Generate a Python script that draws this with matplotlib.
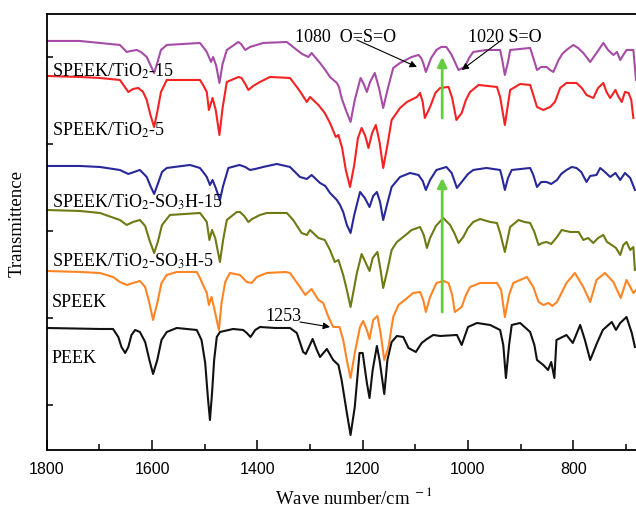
import matplotlib
matplotlib.use("Agg")
import matplotlib.pyplot as plt

# ---------- data (wavenumber, transmittance a.u.) ----
peek_wn = [1800, 1699, 1674, 1664, 1658, 1651, 1645, 1639, 1632, 1623, 1613,
           1605, 1598, 1590, 1582, 1572, 1553, 1515, 1506, 1499, 1494, 1490,
           1486, 1482, 1477, 1471, 1446, 1427, 1420, 1413, 1404, 1395, 1366,
           1338, 1325, 1313, 1308, 1295, 1287, 1281, 1268, 1256, 1246, 1240,
           1230, 1223, 1215, 1206, 1200, 1192, 1187, 1181, 1173, 1168, 1159,
           1153, 1145, 1135, 1123, 1113, 1099, 1088, 1078, 1066, 1053, 1021,
           1012, 1000, 983, 958, 939, 933, 928, 922, 917, 901, 882, 874, 869,
           857, 848, 842, 836, 832, 813, 801, 787, 778, 768, 755, 744, 727,
           719, 711, 699, 689, 683]
peek_t = [122, 121, 121, 113, 103, 97, 103, 115, 120, 118, 108,
          90, 76, 90, 110, 118, 122, 120, 110, 87, 53, 30,
          57, 90, 113, 118, 121, 120, 117, 113, 120, 123, 122,
          122, 117, 98, 96, 111, 100, 93, 101, 90, 85, 70,
          37, 15, 43, 97, 97, 67, 52, 80, 104, 90, 56,
          90, 108, 114, 113, 102, 98, 107, 111, 115, 114, 115,
          105, 123, 127, 125, 120, 105, 72, 105, 125, 127, 118, 105, 90,
          85, 80, 88, 72, 110, 115, 107, 125, 110, 90, 107, 120, 128,
          120, 127, 133, 117, 103]

speek_wn = [1800, 1737, 1699, 1674, 1661, 1648, 1636, 1623, 1613, 1605, 1598,
            1590, 1582, 1572, 1553, 1515, 1509, 1503, 1496, 1492, 1487, 1482,
            1473, 1468, 1461, 1452, 1433, 1420, 1411, 1401, 1382, 1347, 1338,
            1319, 1309, 1297, 1284, 1275, 1265, 1256, 1244, 1237, 1229, 1223,
            1215, 1205, 1199, 1192, 1187, 1180, 1172, 1166, 1159, 1151, 1142,
            1132, 1120, 1104, 1091, 1085, 1080, 1072, 1060, 1047, 1037, 1030,
            1025, 1012, 1004, 996, 977, 945, 937, 930, 922, 914, 888, 876,
            866, 857, 847, 840, 831, 813, 797, 781, 768, 756, 740, 724, 710,
            699, 686, 681]
speek_t = [179, 178, 177, 173, 168, 165, 167, 169, 163, 147, 130,
           147, 167, 175, 178, 178, 172, 165, 157, 145, 153, 142,
           120, 147, 168, 177, 175, 168, 167, 173, 177, 178, 177,
           163, 155, 161, 150, 147, 133, 123, 123, 110, 87, 72,
           97, 123, 129, 120, 111, 130, 134, 117, 90, 103, 133,
           145, 150, 157, 158, 150, 138, 153, 167, 169, 167, 155,
           138, 143, 155, 163, 167, 167, 160, 133, 155, 167, 173, 163,
           148, 145, 147, 144, 148, 167, 177, 163, 148, 170, 177, 168, 152,
           170, 157, 160]

so3h5_wn = [1800, 1737, 1699, 1661, 1648, 1636, 1623, 1613, 1605, 1596, 1589,
            1581, 1566, 1509, 1503, 1496, 1491, 1486, 1480, 1471, 1465, 1458,
            1439, 1433, 1425, 1417, 1410, 1395, 1382, 1344, 1332, 1316, 1306,
            1300, 1284, 1272, 1262, 1253, 1246, 1237, 1230, 1223, 1211, 1202,
            1194, 1187, 1181, 1172, 1166, 1161, 1153, 1145, 1135, 1123, 1107,
            1091, 1084, 1078, 1072, 1061, 1047, 1034, 1026, 1018, 1009, 1000,
            990, 977, 958, 945, 939, 930, 920, 904, 893, 882, 874, 866, 859,
            851, 842, 831, 822, 806, 790, 781, 772, 762, 753, 743, 736, 727,
            719, 711, 705, 699, 692, 686, 683]
so3h5_t = [240, 239, 237, 230, 225, 228, 230, 224, 210, 197, 208,
           225, 235, 237, 233, 228, 210, 220, 212, 188, 210, 230,
           238, 238, 234, 228, 231, 235, 237, 237, 230, 217, 215,
           220, 212, 210, 200, 188, 190, 175, 160, 143, 177, 196,
           187, 179, 192, 198, 180, 162, 180, 200, 208, 213, 220,
           223, 215, 202, 212, 224, 232, 225, 217, 207, 213, 222,
           228, 231, 228, 227, 217, 198, 223, 230, 228, 227, 218, 205, 207,
           208, 206, 213, 220, 218, 218, 210, 212, 207, 212, 215, 208, 205,
           202, 195, 205, 208, 200, 203, 180]

so3h15_wn = [1800, 1737, 1699, 1661, 1645, 1634, 1623, 1610, 1603, 1596, 1589,
             1581, 1572, 1528, 1509, 1503, 1496, 1490, 1485, 1479, 1471, 1465,
             1455, 1434, 1423, 1414, 1404, 1389, 1363, 1338, 1319, 1306, 1297,
             1281, 1271, 1262, 1249, 1243, 1237, 1230, 1223, 1216, 1205, 1196,
             1187, 1180, 1173, 1167, 1161, 1154, 1145, 1129, 1110, 1094, 1086,
             1080, 1072, 1060, 1041, 1031, 1021, 1009, 1000, 990, 965, 939,
             935, 930, 924, 917, 882, 876, 869, 861, 851, 842, 831, 823, 813,
             803, 794, 785, 775, 768, 756, 749, 740, 730, 720, 711, 702, 692,
             683]
so3h15_t = [284, 284, 283, 280, 276, 278, 280, 273, 264, 256, 266,
            278, 282, 285, 282, 278, 273, 265, 270, 262, 250, 264,
            282, 285, 283, 280, 281, 283, 286, 283, 273, 271, 275,
            267, 264, 257, 250, 245, 238, 225, 217, 235, 258, 252,
            243, 254, 258, 248, 230, 245, 263, 273, 277, 275, 269,
            260, 270, 280, 283, 277, 262, 270, 276, 280, 282, 280,
            272, 260, 272, 280, 282, 275, 263, 268, 268, 266, 270, 276, 280,
            283, 282, 278, 268, 274, 275, 282, 278, 273, 277, 270, 277, 272,
            260]

tio5_wn = [1800, 1737, 1699, 1661, 1653, 1645, 1636, 1626, 1617, 1610, 1603,
           1596, 1590, 1583, 1572, 1509, 1503, 1496, 1492, 1485, 1479, 1472,
           1466, 1458, 1436, 1430, 1423, 1417, 1408, 1395, 1376, 1338, 1325,
           1317, 1306, 1300, 1284, 1272, 1262, 1251, 1246, 1239, 1232, 1224,
           1216, 1209, 1202, 1195, 1189, 1182, 1175, 1168, 1161, 1153, 1145,
           1129, 1116, 1097, 1091, 1086, 1082, 1072, 1062, 1053, 1037, 1030,
           1022, 1012, 1004, 996, 980, 945, 939, 930, 920, 901, 882, 876, 869,
           857, 844, 835, 825, 813, 794, 784, 775, 762, 753, 743, 737, 730,
           720, 715, 708, 702, 695, 690, 686]
tio5_t = [374, 373, 372, 370, 364, 358, 361, 362, 358, 350, 335,
          323, 338, 358, 370, 370, 365, 358, 340, 352, 340, 315,
          342, 368, 373, 372, 366, 360, 364, 368, 373, 372, 363,
          357, 348, 353, 345, 337, 327, 313, 315, 302, 280, 263,
          285, 312, 322, 314, 302, 317, 325, 308, 282, 305, 330,
          342, 348, 353, 357, 348, 332, 343, 357, 362, 363, 352,
          330, 337, 350, 358, 365, 363, 353, 325, 360, 366, 365, 355, 343,
          340, 343, 348, 362, 367, 367, 362, 355, 352, 362, 367, 358, 352,
          360, 354, 348, 358, 357, 350, 332]

tio15_wn = [1800, 1737, 1699, 1661, 1648, 1640, 1629, 1621, 1610, 1603, 1596,
            1590, 1583, 1572, 1509, 1503, 1496, 1488, 1484, 1478, 1472, 1466,
            1458, 1436, 1431, 1423, 1414, 1389, 1344, 1325, 1315, 1303, 1297,
            1281, 1271, 1262, 1249, 1245, 1240, 1232, 1223, 1215, 1204, 1198,
            1192, 1186, 1177, 1169, 1161, 1152, 1142, 1129, 1107, 1094, 1089,
            1085, 1080, 1070, 1060, 1051, 1041, 1031, 1018, 1006, 998, 990,
            965, 939, 935, 930, 924, 920, 882, 876, 869, 861, 851, 844, 838,
            828, 821, 813, 800, 791, 781, 768, 756, 743, 734, 724, 717, 711,
            699, 686, 681]
tio15_t = [409, 409, 407, 405, 398, 399, 400, 398, 393, 385, 377,
           387, 400, 405, 407, 403, 398, 388, 393, 384, 367, 386,
           400, 408, 406, 400, 403, 407, 408, 400, 396, 393, 397,
           387, 380, 373, 367, 363, 352, 340, 328, 350, 372, 366,
           358, 368, 377, 362, 342, 362, 382, 387, 393, 395, 392,
           387, 378, 392, 400, 403, 403, 395, 380, 383, 392, 398,
           400, 400, 390, 375, 388, 400, 402, 392, 380, 383, 383, 380, 378,
           390, 396, 400, 405, 402, 397, 388, 397, 407, 400, 395, 398, 390,
           400, 400, 370]

series = [
    (tio15_wn, tio15_t, "#a64ca6", r"SPEEK/TiO$_2$-15", 373),
    (tio5_wn, tio5_t, "#f42222", r"SPEEK/TiO$_2$-5", 314),
    (so3h15_wn, so3h15_t, "#28289a", r"SPEEK/TiO$_2$-SO$_3$H-15", 242),
    (so3h5_wn, so3h5_t, "#6e7a14", r"SPEEK/TiO$_2$-SO$_3$H-5", 183),
    (speek_wn, speek_t, "#ff8424", "SPEEK", 143),
    (peek_wn, peek_t, "#111111", "PEEK", 87),
]

plt.rcParams["font.family"] = ["Liberation Serif", "DejaVu Serif"]
plt.rcParams["mathtext.fontset"] = "stix"

fig = plt.figure(figsize=(6.36, 5.08), dpi=100)
ax = fig.add_axes([0.0734, 0.1142, 0.9266, 0.8583])

for wn, t, color, label, ty in series:
    ax.plot(wn, t, color=color, lw=1.5, solid_joinstyle="round")
    ax.text(1790, ty, label, fontsize=13, va="baseline", ha="left")

# annotations
ax.text(1328, 408, "1080  O=S=O", fontsize=13, va="baseline")
ax.text(1000, 408, "1020 S=O", fontsize=13, va="baseline")
ax.text(1385, 129, "1253", fontsize=13, va="baseline")
black_arrow = dict(arrowstyle="-|>", color="black", lw=0.8, mutation_scale=10,
                   shrinkA=0, shrinkB=0)
ax.annotate("", xy=(1097, 383), xytext=(1211, 410), arrowprops=black_arrow)
ax.annotate("", xy=(1012, 380), xytext=(936, 410), arrowprops=black_arrow)
ax.annotate("", xy=(1262, 123), xytext=(1319, 128), arrowprops=black_arrow)

green_arrow = dict(arrowstyle="-|>", color="#66cc44", lw=2, mutation_scale=14,
                   shrinkA=0, shrinkB=0)
ax.annotate("", xy=(1049, 393), xytext=(1049, 332), arrowprops=green_arrow)
ax.annotate("", xy=(1049, 272), xytext=(1049, 138), arrowprops=green_arrow)

ax.set_xlim(1800, 681)
ax.set_ylim(0, 436)
ax.set_xticks([1800, 1600, 1400, 1200, 1000, 800])
ax.set_xticks([1700, 1500, 1300, 1100, 900, 700], minor=True)
ax.set_yticks([45, 132, 219, 306, 393])
ax.set_yticklabels([])
ax.tick_params(direction="in", width=1.1)
ax.tick_params(axis="x", which="major", length=7)
ax.tick_params(axis="x", which="minor", length=4, width=1.1, direction="in")
ax.tick_params(axis="y", length=4)
for lab in ax.get_xticklabels():
    lab.set_fontfamily("Liberation Sans")
    lab.set_fontsize(11.5)
ax.tick_params(axis="x", pad=9)

for side in ("left", "bottom", "top"):
    ax.spines[side].set_linewidth(1.3)
ax.spines["right"].set_visible(False)

ax.set_xlabel(r"Wave number/cm$^{\ -1}$", fontsize=13.5)
ax.set_ylabel("Transmittence", fontsize=13.5)
ax.xaxis.set_label_coords(0.52, -0.085)
ax.yaxis.set_label_coords(-0.036, 0.52)

fig.savefig("out.png", dpi=100)
